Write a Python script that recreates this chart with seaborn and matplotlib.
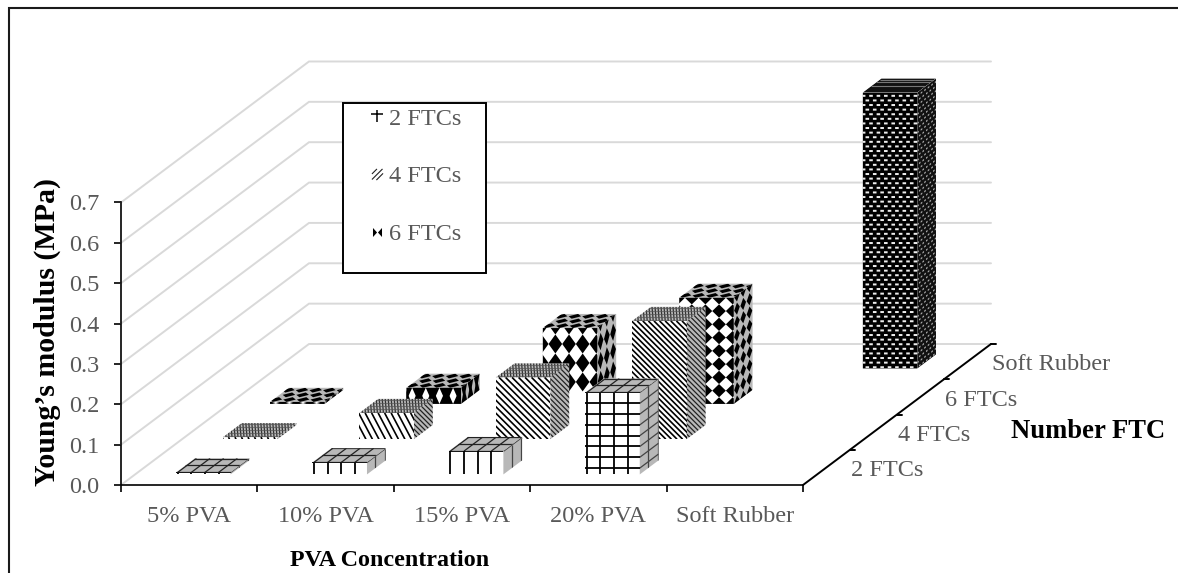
import numpy as np
import pandas as pd
import matplotlib
matplotlib.use('Agg')
import matplotlib.pyplot as plt
import seaborn as sns
from matplotlib.collections import LineCollection, PolyCollection
from matplotlib.lines import Line2D
from matplotlib.patches import Polygon, Rectangle
from matplotlib.path import Path

# values (MPa)
categories = ['5% PVA', '10% PVA', '15% PVA', '20% PVA', 'Soft Rubber']
depth_labels = ['2 FTCs', '4 FTCs', '6 FTCs', 'Soft Rubber']
legend_labels = ['2 FTCs', '4 FTCs', '6 FTCs']
y_ticks = [0.0, 0.1, 0.2, 0.3, 0.4, 0.5, 0.6, 0.7]
ftc2_values = [0.005, 0.03, 0.058, 0.203]
ftc4_values = [0.005, 0.065, 0.153, 0.293]
ftc6_values = [0.005, 0.04, 0.188, 0.263]
rubber_values = [0.684]

GRAY_TEXT = '#595959'
GRID = '#d9d9d9'
SHADE = '#b8b8b8'
TICK_FONT = 17.5

# pixel scale of the figure, the axes fills all of it
FIG_W, FIG_H = 1178, 573
X0, Y0 = 121, 485
PX_X = 136.4   # pixels per category
PX_Y = 403.6   # pixels per MPa
DEPTH_X = 47.0 / PX_X     # shift of one depth row, data units
DEPTH_Y = 35.25 / PX_Y
GAP = 0.3
BAR = 0.4

sns.set_theme(style='white')
plt.rcParams['font.family'] = ['Liberation Serif', 'DejaVu Serif']

fig = plt.figure(figsize=(FIG_W / 100, FIG_H / 100), dpi=100)
ax = fig.add_axes([0, 0, 1, 1])
ax.patch.set_alpha(0)


def mapped(p0, eu, ev, st):
    st = np.asarray(st, dtype=float)
    return p0 + st[..., :1] * eu + st[..., 1:2] * ev


def add_lines(p0, eu, ev, segs, clip, z, lw=1.1, color='black'):
    if len(segs) == 0:
        return
    lc = LineCollection(mapped(p0, eu, ev, np.array(segs)), colors=color, linewidths=lw, zorder=z)
    ax.add_collection(lc, autolim=False)
    lc.set_clip_path(clip)


def add_polys(p0, eu, ev, polys, clip, z, color='black'):
    if len(polys) == 0:
        return
    pc = PolyCollection(mapped(p0, eu, ev, np.array(polys)), facecolors=color, edgecolors='none', zorder=z)
    pc.set_snap(False)
    ax.add_collection(pc, autolim=False)
    pc.set_clip_path(clip)


def grid_segs(ncols, rows, first=0.08):
    segs = [[(first + k / ncols, 0), (first + k / ncols, 1)] for k in range(ncols)]
    segs += [[(0, t), (1, t)] for t in rows]
    return segs


def stripe_segs(U, V, period, slope=1.0):
    segs = []
    run = V / slope
    c = -run - period
    while c < U + period:
        segs.append([(c / U, 1), ((c + run) / U, 0)])
        c += period
    return segs


def diamond_polys(centers, hw, hh):
    return [[(s - hw, t), (s, t + hh), (s + hw, t), (s, t - hh)] for s, t in centers]


def dot_polys(U, V, per_u, per_v, du, dv):
    polys = []
    row = 0
    v = V - per_v * 0.7
    while v > -per_v:
        u = (row % 2) * per_u * 0.5 + 1.0
        while u < U + per_u:
            polys.append([((u - du) / U, (v - dv) / V), ((u + du) / U, (v - dv) / V),
                          ((u + du) / U, (v + dv) / V), ((u - du) / U, (v + dv) / V)])
            u += per_u
        v -= per_v
        row += 1
    return polys


def draw_grid_pattern(front, side, top, h_px, clips, z):
    rows = [0.985]
    if h_px > 40:
        rows = list(1 - np.arange(0, h_px / 10.8) * 10.8 / h_px)
    add_lines(*front, grid_segs(4, rows, 0.03), clips[0], z, lw=1.3)
    add_lines(*side, grid_segs(2, rows, 0.45), clips[1], z, lw=0.9, color='#444444')
    add_lines(*top, grid_segs(4, [0.02, 0.5, 0.98], 0.03), clips[2], z, lw=0.9, color='#222222')


def draw_stripe_pattern(front, side, top, h_px, clips, z):
    U = BAR * PX_X
    slope = 1.0 if h_px > 40 else 1.9
    period = 5.6 if h_px > 80 else 6.5
    add_lines(*front, stripe_segs(U, h_px, period, slope), clips[0], z, lw=1.2)
    add_lines(*side, stripe_segs(23.5, h_px, 3.6, 1.4), clips[1], z, lw=0.9, color='#222222')
    add_lines(*top, stripe_segs(U, 20, 3.0, 1.0), clips[2], z, lw=0.9, color='#333333')
    add_lines(*top, [[(0, t), (1, t)] for t in np.arange(0.1, 1, 0.2)], clips[2], z, lw=0.5, color='#555555')


def draw_diamond_pattern(front, side, top, h_px, clips, z):
    if h_px < 30:
        nrows, start, half = 1, 0.0, 0.95
    elif h_px < 90:
        nrows, start, half = 4, 0.29, 0.5 / 4
    else:
        nrows, start, half = 8, 0.0, 0.5 / 8
    ts = [start + r / nrows for r in range(nrows + 1)]
    centers = [(k / 4 - 0.02, t) for k in range(5) for t in ts]
    add_polys(*front, diamond_polys(centers, 0.125, half), clips[0], z)
    side_centers = [(k / 3 + 0.17, t) for k in range(3) for t in ts]
    add_polys(*side, diamond_polys(side_centers, 0.15, half * 0.92), clips[1], z)
    top_centers = [((k + (r % 2) * 0.5) / 4 + 0.05, (r + 0.5) / 3) for k in range(5) for r in range(3)]
    add_polys(*top, diamond_polys(top_centers, 0.115, 0.17), clips[2], z)


def draw_dot_pattern(front, side, top, h_px, clips, z):
    U = BAR * PX_X
    add_polys(*front, [[(0, 0), (1, 0), (1, 1), (0, 1)]], clips[0], z)
    add_polys(*front, dot_polys(U, h_px, 7.4, 4.6, 1.8, 1.0), clips[0], z + 0.1, color='#ececec')
    add_polys(*side, [[(0, 0), (1, 0), (1, 1), (0, 1)]], clips[1], z, color='#111111')
    add_polys(*side, dot_polys(23.5, h_px, 4.4, 4.6, 1.0, 0.8), clips[1], z + 0.1, color='#aaaaaa')
    add_polys(*top, [[(0, 0), (1, 0), (1, 1), (0, 1)]], clips[2], z, color='#111111')
    add_lines(*top, [[(0, t), (1, t)] for t in (0.45, 0.72, 0.92)], clips[2], z + 0.1, lw=0.8, color='#777777')


def draw_row(values, row, pattern):
    z = 10 + (3 - row) * 5
    edges = [i + GAP + BAR / 2 + (row + GAP) * DEPTH_X for i in range(len(values))]
    if row == 3:
        edges = [4 + GAP + BAR / 2 + (row + GAP) * DEPTH_X]
    base = (row + GAP) * DEPTH_Y
    frame = pd.DataFrame({'x': edges, 'value': values})
    sns.barplot(data=frame, x='x', y='value', bottom=base, native_scale=True, orient='x',
                width=BAR, color='white', saturation=1, errorbar=None, linewidth=0,
                zorder=z, ax=ax)

    for xc, value in zip(edges, values):
        left = xc - BAR / 2
        h_px = value * PX_Y
        p = np.array([left, base])
        eu = np.array([BAR, 0.0])
        ev = np.array([0.0, value])
        ed = np.array([BAR * DEPTH_X, BAR * DEPTH_Y])

        front_corners = [p, p + eu, p + eu + ev, p + ev]
        side_corners = [p + eu, p + eu + ed, p + eu + ed + ev, p + eu + ev]
        top_corners = [p + ev, p + eu + ev, p + eu + ev + ed, p + ev + ed]
        clips = []
        for corners, color in [(front_corners, 'none'), (side_corners, SHADE), (top_corners, SHADE)]:
            poly = Polygon(corners, closed=True, facecolor=color, edgecolor='none', zorder=z + 0.1)
            ax.add_patch(poly)
            clips.append(poly)

        pattern((p, eu, ev), (p + eu, ed, ev), (p + ev, eu, ed), h_px, clips, z + 0.2)


# walls: gridlines run up the left wall, then along the back
for v in y_ticks:
    xs = [0, 4 * DEPTH_X, 5 + 4 * DEPTH_X]
    ys = [v, v + 4 * DEPTH_Y, v + 4 * DEPTH_Y]
    ax.plot(xs, ys, color=GRID, lw=1.4, zorder=1, solid_joinstyle='miter')

draw_row(rubber_values, 3, draw_dot_pattern)
draw_row(ftc6_values, 2, draw_diamond_pattern)
draw_row(ftc4_values, 1, draw_stripe_pattern)
draw_row(ftc2_values, 0, draw_grid_pattern)

ax.set_xlim(-X0 / PX_X, (FIG_W - X0) / PX_X)
ax.set_ylim((Y0 - FIG_H) / PX_Y, Y0 / PX_Y)
ax.set_xlabel('')
ax.set_ylabel('')

# axes
for side in ['top', 'right']:
    ax.spines[side].set_visible(False)
ax.spines['left'].set_position(('data', 0))
ax.spines['bottom'].set_position(('data', 0))
ax.spines['left'].set_bounds(0, 0.7)
ax.spines['bottom'].set_bounds(0, 5)
for side in ['left', 'bottom']:
    ax.spines[side].set_color('black')
    ax.spines[side].set_linewidth(1.2)
    ax.spines[side].set_zorder(40)

ax.set_yticks(y_ticks)
ax.set_yticklabels([f'{v:.1f}' for v in y_ticks])
ax.tick_params(axis='y', left=True, length=5, width=1.2, color='black', pad=10.5,
               labelsize=TICK_FONT, labelcolor=GRAY_TEXT)
ax.set_xticks(range(6))
ax.set_xticks(np.arange(5) + 0.5, minor=True)
ax.set_xticklabels([''] * 6)
ax.set_xticklabels(categories, minor=True)
ax.tick_params(axis='x', which='major', bottom=True, length=5, width=1.2, color='black')
ax.tick_params(axis='x', which='minor', bottom=False, length=0, pad=15,
               labelsize=TICK_FONT, labelcolor=GRAY_TEXT)

# depth axis
ax.plot([5, 5 + 4 * DEPTH_X], [0, 4 * DEPTH_Y], color='black', lw=1.4, zorder=40, clip_on=False)
for j, label in enumerate(depth_labels, start=1):
    tx, ty = 5 + j * DEPTH_X, j * DEPTH_Y
    ax.plot([tx, tx + 5 / PX_X], [ty, ty], color='black', lw=1.4, zorder=40)
    ax.annotate(label, (tx, ty), xytext=(1, -15), textcoords='offset points', ha='left', va='center',
                fontsize=TICK_FONT, color=GRAY_TEXT)

# axis titles
fig.text(47 / FIG_W, 1 - 332 / FIG_H, 'Young\u2019s modulus (MPa)', rotation=90, ha='center', va='center',
         fontsize=21.5, fontweight='bold', color='black')
fig.text(390 / FIG_W, 1 - 560 / FIG_H, 'PVA Concentration', ha='center', va='center',
         fontsize=17.3, fontweight='bold', color='black')
fig.text(1088 / FIG_W, 1 - 431 / FIG_H, 'Number FTC', ha='center', va='center',
         fontsize=19.2, fontweight='bold', color='black')

# legend, frame drawn on its own because the rows sit high in the box
ax.add_patch(Rectangle((343 / FIG_W, 1 - 272.5 / FIG_H), 143 / FIG_W, 169.5 / FIG_H, transform=ax.transAxes,
                       facecolor='white', edgecolor='black', lw=1.4, zorder=45))
cross = Path([(-1, 0.45), (1, 0.45), (0, 1), (0, -1)], [Path.MOVETO, Path.LINETO, Path.MOVETO, Path.LINETO])
slashes = Path([(-1, 0.1), (-0.1, 1), (-1, -0.9), (0.9, 1), (-0.2, -1), (1, 0.2)],
               [Path.MOVETO, Path.LINETO, Path.MOVETO, Path.LINETO, Path.MOVETO, Path.LINETO])
bowtie = Path([(-1, 1), (-0.1, 0), (-1, -1), (-1, 1), (1, 1), (0.1, 0), (1, -1), (1, 1)],
              [Path.MOVETO, Path.LINETO, Path.LINETO, Path.CLOSEPOLY,
               Path.MOVETO, Path.LINETO, Path.LINETO, Path.CLOSEPOLY])
handles = [
    Line2D([], [], ls='none', marker=cross, markersize=8, markerfacecolor='none',
           markeredgecolor='black', markeredgewidth=1.1),
    Line2D([], [], ls='none', marker=slashes, markersize=8, markerfacecolor='none',
           markeredgecolor='#222222', markeredgewidth=0.8),
    Line2D([], [], ls='none', marker=bowtie, markersize=6.5, markerfacecolor='black',
           markeredgecolor='none'),
]
leg = ax.legend(handles, legend_labels, loc='upper left', bbox_to_anchor=(368 / FIG_W, 1 - 107.5 / FIG_H),
                frameon=False, fontsize=TICK_FONT, labelcolor=GRAY_TEXT, labelspacing=1.48,
                handlelength=0.74, handletextpad=0.12, borderpad=0, borderaxespad=0)
leg.set_zorder(46)

# outer chart border, right and bottom edges are cropped in the picture
fig.add_artist(Line2D([9 / FIG_W, 9 / FIG_W, 1], [0, 1 - 8 / FIG_H, 1 - 8 / FIG_H], color='#1a1a1a', lw=1.5,
                      solid_joinstyle='miter'))

fig.savefig('out.png', dpi=100)
